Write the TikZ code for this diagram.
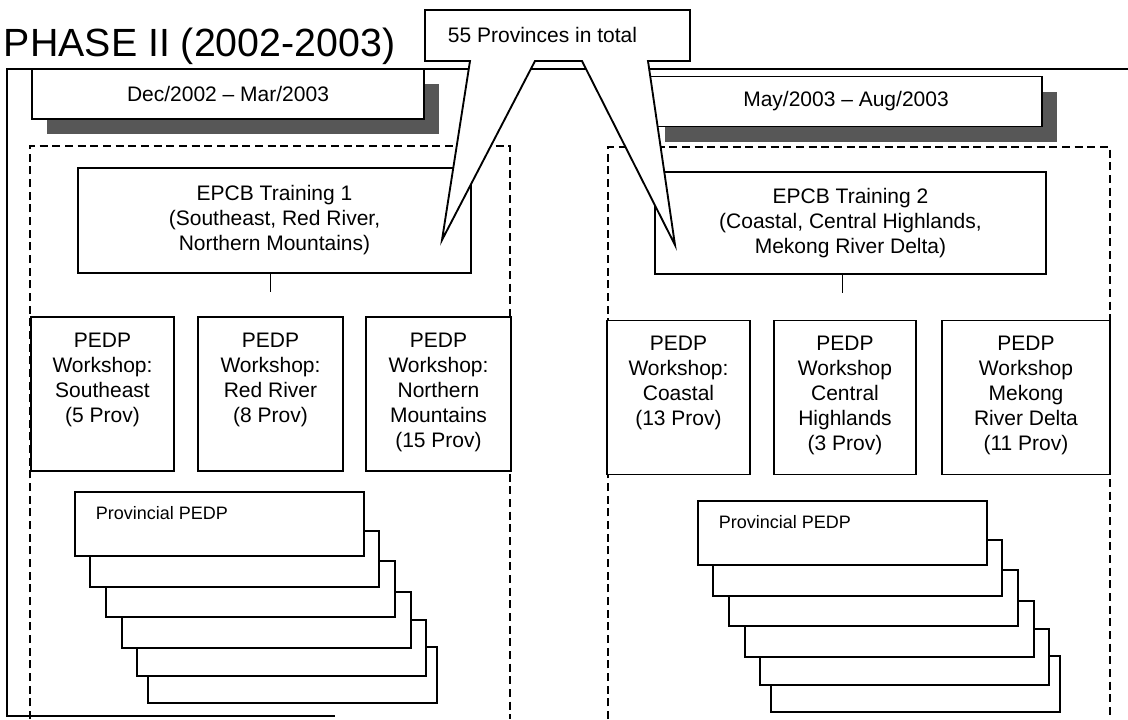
\documentclass[tikz,border=0pt]{standalone}
\usepackage{fontspec}
\setmainfont{Liberation Sans}
\usepackage{tikz}
\usetikzlibrary{positioning,calc,shadows}

\newcommand{\diagfont}{\fontsize{15.75pt}{18.75pt}\selectfont}
\newcommand{\phasefont}{\fontsize{29.5pt}{34pt}\selectfont}
\newcommand{\provfont}{\fontsize{13.5pt}{16pt}\selectfont}
% text pushed to the top of a box of fixed size
\newcommand{\topbox}[3]{\parbox[c][#2][t]{#1}{\centering #3}}

\begin{document}
\begin{tikzpicture}[x=0.75pt,y=-0.75pt,line width=1.4pt,
    plain/.style={draw,fill=white,inner sep=0pt},
    datebox/.style={plain,minimum width=294pt,minimum height=37.5pt,font=\diagfont,
      drop shadow={opacity=1,fill=black!66,shadow xshift=11.25pt,shadow yshift=-11.25pt}},
    trainbox/.style={plain,align=center,font=\diagfont},
    shopbox/.style={plain,inner xsep=2pt,inner ysep=12pt,font=\diagfont},
    planbox/.style={plain,anchor=south west,minimum width=216.75pt,minimum height=42pt},
    zone/.style={line width=1.2pt,dash pattern=on 6pt off 3.5pt}]
    \useasboundingbox (0,0) rectangle (1128,719);

    \node[anchor=base west,inner sep=0pt,font=\phasefont] (title) at (3,56) {PHASE II (2002-2003)};

    % frame
    \draw[line width=1.6pt] (1128,69) -- (7,69) -- (7,716) -- (335,716);

    \node[datebox] (dateA) at (228,94) {Dec/2002 -- Mar/2003};
    \node[datebox] (dateB) at (846,101.5) {May/2003 -- Aug/2003};

    \draw[zone] (30,719) -- (30,146) -- (510,146) -- (510,719);
    \draw[zone] (608,719) -- (608,147) -- (1110,147) -- (1110,719);

    \node[trainbox,minimum width=294.75pt,minimum height=78.75pt] (trainA) at (274.5,220.5)
      {EPCB Training 1\\(Southeast, Red River,\\Northern Mountains)};
    \node[trainbox,minimum width=293.25pt,minimum height=76.5pt] (trainB) at (850.5,223)
      {EPCB Training 2\\(Coastal, Central Highlands,\\Mekong River Delta)};

    \coordinate (stubA) at ($(trainA.south)+(-4,18)$);
    \coordinate (stubB) at ($(trainB.south)+(-8,18)$);
    \draw[line width=1pt] (trainA.south -| stubA) -- (stubA);
    \draw[line width=1pt] (trainB.south -| stubB) -- (stubB);

    % workshops
    \node[shopbox] (shopA1) at (102.5,394) {\topbox{103.25pt}{91.5pt}{PEDP\\Workshop:\\Southeast\\(5 Prov)}};
    \node[shopbox] (shopA2) at (270.5,394) {\topbox{104.75pt}{91.5pt}{PEDP\\Workshop:\\Red River\\(8 Prov)}};
    \node[shopbox] (shopA3) at (438.5,394) {\topbox{104.75pt}{91.5pt}{PEDP\\Workshop:\\Northern\\Mountains\\(15 Prov)}};
    \node[shopbox] (shopB1) at (678.5,397.5) {\topbox{103.25pt}{91.5pt}{PEDP\\Workshop:\\Coastal\\(13 Prov)}};
    \node[shopbox] (shopB2) at (845,397.5) {\topbox{102.5pt}{91.5pt}{PEDP\\Workshop\\Central\\Highlands\\(3 Prov)}};
    \node[shopbox] (shopB3) at (1026,397.5) {\topbox{122pt}{91.5pt}{PEDP\\Workshop\\Mekong\\River Delta\\(11 Prov)}};

    % provincial plans, back to front
    \foreach \sx/\sy/\nm in {0/0/A,623/9/B} {
      \foreach \dx/\dy/\i in {73/147/5,62/120/4,47/92/3,31/61/2,15/31/1}
        \node[planbox] (plan\nm\i) at (74+\sx+\dx,557+\sy+\dy) {};
      \node[planbox,minimum height=48pt,inner xsep=15.75pt,inner ysep=10.5pt,font=\provfont]
        (plan\nm) at (74+\sx,557+\sy) {\parbox[c][27pt][t]{185.25pt}{\raggedright Provincial PEDP}};
    }

    % callout
    \draw[fill=white] (425,10) -- (690,10) -- (690,61) -- (648,61) -- (675,245) -- (582,61)
      -- (535,61) -- (442,240) -- (470,61) -- (425,61) -- cycle;
    \node[anchor=west,inner sep=0pt,font=\diagfont] (total) at (447,35) {55 Provinces in total};
\end{tikzpicture}
\end{document}
